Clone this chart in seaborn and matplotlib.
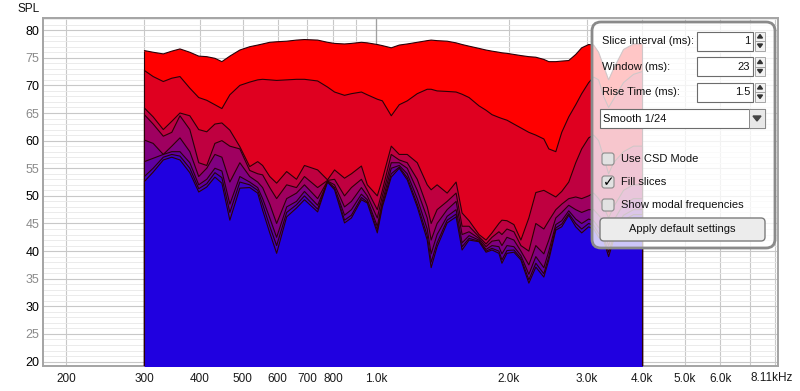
import matplotlib
matplotlib.use("Agg")
import matplotlib.pyplot as plt
from matplotlib.patches import FancyBboxPatch, Rectangle, Polygon
from matplotlib.ticker import FixedLocator, NullFormatter, MultipleLocator
import seaborn as sns

# frequency points (Hz) shared by every decay slice
freq_hz = [300, 314, 331, 346, 361, 380, 398, 415, 433, 449,
           468, 493, 519, 541, 555, 576, 597, 629, 662, 690,
           739, 778, 807, 850, 881, 928, 957, 1008, 1035, 1084,
           1130, 1178, 1241, 1307, 1334, 1376, 1450, 1519, 1567, 1625,
           1711, 1775, 1831, 1898, 1928, 1979, 2052, 2128, 2218, 2300,
           2398, 2461, 2552, 2632, 2730, 2831, 2920, 3028, 3108, 3189,
           3273, 3359, 3447, 3630, 3824, 4000]

# SPL (dB) of each slice, first slice (t=0) on top
slice_1 = [76.3, 76.0, 75.7, 76.2, 76.6, 76.0, 75.3, 75.2, 74.9, 74.3,
           75.3, 76.4, 77.0, 77.3, 77.5, 77.8, 77.9, 78.0, 78.2, 78.3,
           78.2, 77.8, 77.6, 77.5, 77.6, 77.8, 77.7, 77.4, 77.2, 76.8,
           77.3, 77.5, 77.8, 78.1, 78.2, 78.1, 78.0, 77.7, 77.4, 77.1,
           76.7, 76.4, 76.2, 76.0, 75.9, 75.8, 75.6, 75.4, 75.2, 75.1,
           74.7, 74.3, 74.3, 74.4, 74.5, 75.6, 76.8, 77.4, 77.3, 76.0,
           73.5, 71.0, 73.0, 76.5, 77.5, 77.5]
slice_2 = [72.7, 71.6, 70.7, 71.3, 71.6, 69.5, 67.8, 67.3, 66.5, 65.8,
           68.3, 70.0, 70.6, 71.0, 71.1, 71.0, 70.9, 71.0, 71.1, 71.1,
           70.8, 69.7, 68.8, 68.2, 68.5, 68.8, 68.3, 67.5, 67.2, 64.5,
           66.5, 67.2, 68.5, 69.3, 69.3, 69.0, 68.9, 68.8, 68.4, 67.8,
           66.3, 65.5, 64.7, 64.2, 64.0, 63.7, 63.0, 62.3, 61.5, 61.0,
           60.3, 58.5, 58.0, 61.5, 64.3, 66.5, 68.5, 70.5, 71.5, 71.0,
           68.0, 66.0, 67.5, 70.5, 72.0, 72.5]
slice_3 = [65.9, 64.3, 62.0, 63.5, 65.0, 64.5, 62.0, 61.6, 63.0, 63.2,
           61.9, 58.9, 55.3, 56.2, 55.5, 53.5, 52.3, 54.4, 53.0, 55.5,
           54.7, 52.9, 54.7, 53.2, 54.0, 55.4, 52.0, 50.0, 53.0, 59.0,
           57.5, 57.5, 56.0, 52.0, 51.1, 52.0, 50.5, 52.5, 46.9, 45.5,
           43.0, 42.0, 43.3, 45.0, 45.6, 45.5, 44.8, 42.0, 46.0, 50.6,
           51.0, 50.5, 49.8, 50.8, 52.5, 56.0, 58.5, 60.5, 61.0, 60.0,
           57.0, 54.0, 56.0, 58.0, 59.0, 59.0]
slice_4 = [64.7, 63.0, 60.8, 61.5, 64.5, 62.0, 56.0, 55.5, 59.5, 60.0,
           59.0, 58.5, 54.6, 54.0, 53.8, 51.5, 49.5, 52.0, 51.5, 53.5,
           51.5, 52.8, 53.0, 50.0, 51.5, 53.0, 51.0, 47.5, 51.0, 57.5,
           56.5, 56.0, 53.0, 48.0, 45.0, 47.5, 49.0, 50.5, 44.5, 44.5,
           42.6, 41.3, 42.5, 43.5, 43.0, 44.0, 43.5, 41.0, 40.0, 45.0,
           44.0, 45.5, 47.5, 48.5, 49.5, 49.8, 49.5, 50.0, 50.5, 49.5,
           48.0, 46.0, 48.0, 51.0, 52.0, 52.0]
slice_5 = [60.1, 59.5, 57.5, 59.0, 60.5, 58.0, 53.5, 55.0, 57.5, 57.0,
           52.5, 56.0, 53.5, 52.5, 51.5, 48.5, 45.0, 49.5, 50.5, 52.0,
           49.5, 52.7, 52.0, 48.0, 49.0, 51.5, 50.0, 46.0, 50.0, 56.0,
           56.0, 55.0, 51.0, 46.0, 42.0, 45.0, 47.5, 49.0, 43.0, 43.5,
           42.3, 40.8, 41.8, 42.0, 41.0, 42.5, 42.0, 40.0, 37.5, 41.0,
           39.5, 42.0, 46.0, 47.0, 48.3, 47.5, 47.0, 47.5, 47.5, 46.5,
           45.5, 43.0, 45.5, 48.5, 49.5, 49.5]
slice_6 = [56.2, 56.8, 57.5, 58.0, 58.0, 56.0, 52.0, 53.0, 55.0, 54.5,
           48.5, 53.5, 52.5, 51.5, 49.5, 46.0, 42.5, 48.0, 49.0, 50.8,
           48.3, 52.6, 51.5, 46.5, 47.5, 50.3, 49.3, 44.5, 49.0, 55.0,
           55.5, 54.0, 49.5, 44.0, 39.5, 43.0, 46.3, 47.5, 41.5, 42.8,
           42.0, 40.3, 41.0, 40.8, 39.5, 41.0, 40.8, 39.2, 35.8, 39.0,
           37.0, 40.0, 44.8, 45.5, 47.3, 45.8, 45.0, 45.8, 45.5, 44.3,
           43.5, 41.0, 43.5, 46.5, 47.5, 47.5]
slice_7 = [53.5, 55.0, 57.0, 57.5, 57.2, 55.0, 51.3, 52.2, 54.2, 53.3,
           47.0, 52.5, 52.0, 51.0, 48.5, 44.5, 41.0, 47.0, 48.4, 50.0,
           47.6, 52.5, 51.2, 45.6, 46.5, 49.7, 48.9, 43.8, 48.4, 54.0,
           55.2, 53.3, 48.5, 42.8, 38.0, 41.5, 45.6, 46.7, 40.8, 42.3,
           41.8, 40.0, 40.5, 40.0, 38.4, 40.1, 40.2, 38.7, 34.8, 37.8,
           35.9, 39.0, 44.2, 44.9, 46.8, 45.0, 44.0, 45.0, 44.7, 43.2,
           42.6, 39.8, 42.6, 45.6, 46.6, 46.6]
slice_8 = [52.6, 54.3, 56.5, 57.0, 56.5, 54.2, 50.7, 51.6, 53.4, 52.3,
           45.6, 51.4, 51.5, 50.5, 47.4, 43.3, 39.6, 46.2, 47.8, 49.3,
           47.1, 52.5, 51.1, 45.1, 46.0, 49.3, 48.7, 43.3, 48.0, 53.4,
           55.0, 52.9, 48.0, 42.0, 37.0, 40.8, 45.1, 46.2, 40.2, 42.0,
           41.7, 39.8, 40.2, 39.6, 37.8, 39.6, 39.8, 38.4, 34.2, 37.1,
           35.3, 38.4, 43.8, 44.4, 46.5, 44.4, 43.3, 44.4, 44.0, 42.5,
           42.0, 39.0, 42.0, 45.0, 46.0, 46.0]

slice_colors = ["#ff0000", "#df0020", "#bf0040", "#9f0060",
                "#7f0080", "#5f00a0", "#3f00c0", "#2000e0"]

xtick_vals = [200, 300, 400, 500, 600, 700, 800, 1000, 2000, 3000, 4000, 5000, 6000, 8110]
xtick_text = ["200", "300", "400", "500", "600", "700", "800",
              "1.0k", "2.0k", "3.0k", "4.0k", "5.0k", "6.0k", ""]
ytick_vals = list(range(20, 85, 5))

control_labels = ["Slice interval (ms):", "Window (ms):", "Rise Time (ms):"]
control_values = ["1", "23", "1.5"]
smoothing = "Smooth 1/24"
check_labels = ["Use CSD Mode", "Fill slices", "Show modal frequencies"]
check_states = [False, True, False]
button_text = "Apply default settings"

sns.set_style("white")
plt.rcParams["font.family"] = ["Liberation Sans", "DejaVu Sans"]

fig = plt.figure(figsize=(8.0, 3.91), dpi=100)
ax = fig.add_axes([43 / 800, 1 - 366 / 391, 735 / 800, 348 / 391])

slices = [slice_1, slice_2, slice_3, slice_4, slice_5, slice_6, slice_7, slice_8]
edge = "#2a0008"
for i, (levels, col) in enumerate(zip(slices, slice_colors)):
    z = 3 + i
    ax.fill_between(freq_hz, levels, 0, color=col, lw=0, zorder=z)
    sns.lineplot(x=freq_hz, y=levels, color=edge, lw=0.8, ax=ax, zorder=z, sort=False)
    ax.vlines([freq_hz[0], freq_hz[-1]], 0, [levels[0], levels[-1]],
              color=edge, lw=0.8, zorder=z)

ax.set_xscale("log")
ax.set_xlim(177, 8110)
ax.set_ylim(19.2, 82.2)

ax.xaxis.set_major_locator(FixedLocator(xtick_vals))
ax.set_xticklabels(xtick_text)
ax.xaxis.set_minor_locator(FixedLocator([900, 7000, 8000]))
ax.xaxis.set_minor_formatter(NullFormatter())
ax.set_yticks(ytick_vals)
ax.set_yticklabels([str(v) for v in ytick_vals])
ax.yaxis.set_minor_locator(MultipleLocator(1))
for lab, v in zip(ax.get_yticklabels(), ytick_vals):
    lab.set_color("#000000" if v % 10 == 0 else "#8a8a8a")
ax.tick_params(axis="both", which="both", length=0)
ax.tick_params(axis="x", pad=5, labelsize=8.5, labelcolor="#1a1a1a")
ax.tick_params(axis="y", pad=2.5, labelsize=9)

ax.set_axisbelow(True)
ax.grid(which="major", axis="both", color="#c8c8c8", lw=0.8)
ax.grid(which="minor", axis="y", color="#e8e8e8", lw=0.6)
ax.grid(which="minor", axis="x", color="#c8c8c8", lw=0.8)
ax.axvline(1000, color="#a0a0a0", lw=0.9, zorder=1)
ax.set_xlabel("")
ax.set_ylabel("")
for sp in ax.spines.values():
    sp.set_color("#a4a4a4")
    sp.set_linewidth(1.4)

# overlay in pixel coordinates for the text and the settings panel
ui = fig.add_axes([0, 0, 1, 1], zorder=10)
ui.set_xlim(0, 800)
ui.set_ylim(391, 0)
ui.axis("off")
ui.patch.set_alpha(0)

ui.text(17, 9, "SPL", fontsize=8.5, va="center", ha="left", color="#111111")
ui.text(771.5, 378, "8.11kHz", fontsize=8.5, va="center", ha="center", color="#1a1a1a")

ui.add_patch(FancyBboxPatch((592, 22), 183, 226, boxstyle="round,pad=0,rounding_size=9",
                            facecolor=(1, 1, 1, 0.78), edgecolor="#8a8a8a", lw=2.0))

rows_y = [41, 66.5, 92]
for label, value, yc in zip(control_labels, control_values, rows_y):
    ui.text(602, yc, label, fontsize=8, va="center", ha="left", color="#111111")
    ui.add_patch(Rectangle((697, yc - 9.5), 56, 19, facecolor="white", edgecolor="#6c6c6c", lw=0.8))
    ui.text(750, yc, value, fontsize=8, va="center", ha="right", color="#111111")
    ui.add_patch(Rectangle((755, yc - 9.5), 10, 9.5, facecolor="#f2f2f2", edgecolor="#9a9a9a", lw=0.6))
    ui.add_patch(Rectangle((755, yc), 10, 9.5, facecolor="#f2f2f2", edgecolor="#9a9a9a", lw=0.6))
    ui.add_patch(Polygon([(757.5, yc - 3), (762.5, yc - 3), (760, yc - 6.5)], color="#333333"))
    ui.add_patch(Polygon([(757.5, yc + 3), (762.5, yc + 3), (760, yc + 6.5)], color="#333333"))

ui.add_patch(Rectangle((600, 109), 165, 19, facecolor="white", edgecolor="#6c6c6c", lw=0.8))
ui.text(603, 118.5, smoothing, fontsize=8, va="center", ha="left", color="#111111")
ui.add_patch(Rectangle((749, 109), 16, 19, facecolor="#e8e8e8", edgecolor="#8a8a8a", lw=0.7))
ui.add_patch(Polygon([(753, 116), (761, 116), (757, 121)], color="#444444"))

for label, state, yc in zip(check_labels, check_states, [159, 182, 205]):
    ui.add_patch(FancyBboxPatch((602, yc - 6), 12, 12, boxstyle="round,pad=0,rounding_size=2.5",
                                facecolor="#e2e2e2", edgecolor="#8a8a8a", lw=0.8))
    if state:
        ui.text(608.5, yc, "\u2713", fontsize=10, fontweight="bold", va="center", ha="center",
                color="#000000", family="DejaVu Sans")
    ui.text(621, yc, label, fontsize=8, va="center", ha="left", color="#111111")

ui.add_patch(FancyBboxPatch((600, 218), 165, 23, boxstyle="round,pad=0,rounding_size=4",
                            facecolor="#ececec", edgecolor="#7c7c7c", lw=1.0))
ui.text(682.5, 229.5, button_text, fontsize=8, va="center", ha="center", color="#111111")

fig.savefig("out.png", dpi=100, facecolor="white")
